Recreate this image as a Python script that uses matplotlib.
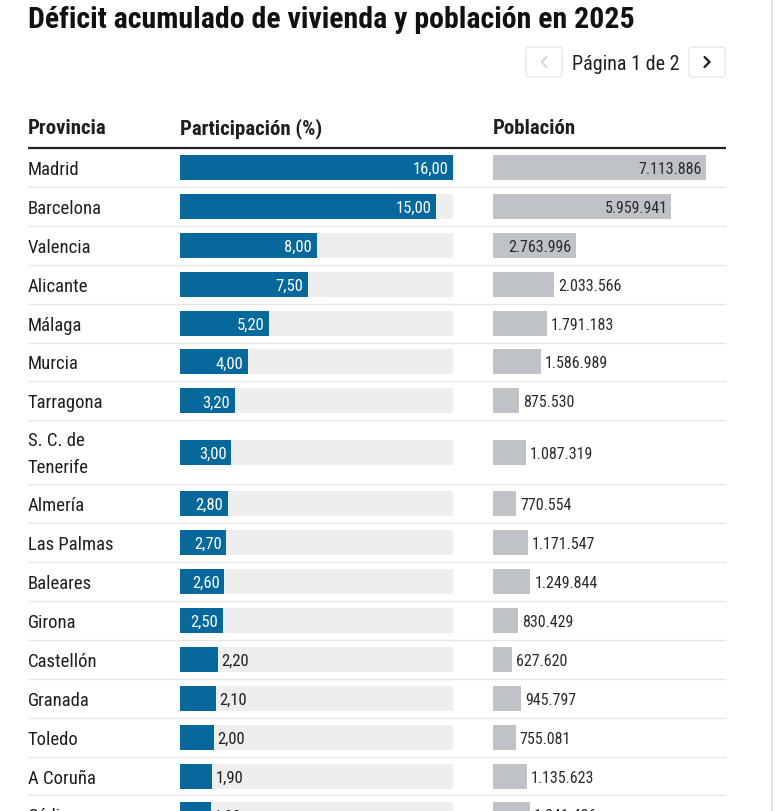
import matplotlib
matplotlib.use("Agg")
import matplotlib.pyplot as plt
from matplotlib import font_manager
from matplotlib.patches import FancyBboxPatch
from matplotlib.transforms import offset_copy

# ---------------------- Data ----------------------

provincias = ["Madrid", "Barcelona", "Valencia", "Alicante", "Málaga", "Murcia",
              "Tarragona", "S. C. de\nTenerife", "Almería", "Las Palmas", "Baleares",
              "Girona", "Castellón", "Granada", "Toledo", "A Coruña", "Cádiz"]
participacion = [16.00, 15.00, 8.00, 7.50, 5.20, 4.00, 3.20, 3.00, 2.80, 2.70,
                 2.60, 2.50, 2.20, 2.10, 2.00, 1.90, 1.80]
poblacion = [7113886, 5959941, 2763996, 2033566, 1791183, 1586989, 875530,
             1087319, 770554, 1171547, 1249844, 830429, 627620, 945797,
             755081, 1135623, 1241426]

titulo = "Déficit acumulado de vivienda y población en 2025"
cabeceras = ["Provincia", "Participación (%)", "Población"]
paginacion = "Página 1 de 2"

# ---------------------- Layout (pixels) ----------------------

W, H = 777, 812
LEFT, RIGHT = 28, 726
PART_X0, PART_W = 180, 273
POP_X0, POP_W = 493, 213
HEADER_LINE_Y = 149
ROW_H, TALL_ROW_H = 38.9, 64
BAR_H = 25

BLUE = "#07699b"
TRACK = "#eeeeee"
GREY_BAR = "#bfc3c7"
INK = "#1f1f1f"


def pick_font(cands):
    names = {f.name for f in font_manager.fontManager.ttflist}
    for c in cands:
        if c in names:
            return c
    return "DejaVu Sans"


FONT = pick_font(["Liberation Sans Narrow", "Roboto Condensed", "Roboto", "Liberation Sans"])
plt.rcParams["font.family"] = [FONT, "DejaVu Sans"]


def fmt_es(v, dec=2):
    s = f"{v:,.{dec}f}"
    return s.replace(",", "X").replace(".", ",").replace("X", ".")


# row centres and bottoms from row heights
centres, bottoms = [], []
top = HEADER_LINE_Y
for p in provincias:
    h = TALL_ROW_H if "\n" in p else ROW_H
    centres.append(top + h / 2)
    top += h
    bottoms.append(top)

fig = plt.figure(figsize=(W / 100, H / 100), dpi=100)
fig.patch.set_facecolor("white")

ax = fig.add_axes([0, 0, 1, 1])
ax.set_xlim(0, W)
ax.set_ylim(H, 0)
ax.axis("off")

# ---------------------- Title and pager ----------------------

ax.text(LEFT, 28.5, titulo, fontsize=21.5, fontweight="bold", color="#111111",
        ha="left", va="baseline")

for x0, active in [(526, False), (689, True)]:
    ax.add_patch(FancyBboxPatch((x0, 48), 36, 30, boxstyle="round,pad=0,rounding_size=3",
                                fc="white", ec="#e2e2e2", lw=0.8))
    cx, cy = x0 + 18, 63
    if active:
        ax.plot([cx - 2.5, cx + 2.5, cx - 2.5], [cy - 5, cy, cy + 5], color=INK,
                lw=1.6, solid_capstyle="round", solid_joinstyle="miter")
    else:
        ax.plot([cx + 2.5, cx - 2.5, cx + 2.5], [cy - 5, cy, cy + 5], color="#cfcfcf",
                lw=1.3, solid_capstyle="round")
ax.text(626, 69.5, paginacion, fontsize=14.5, color=INK, ha="center", va="baseline")

# ---------------------- Header ----------------------

for x, lab in zip([LEFT, PART_X0, POP_X0], cabeceras):
    ax.text(x, 134, lab, fontsize=15, fontweight="bold", color=INK,
            ha="left", va="baseline")
ax.plot([LEFT, RIGHT], [HEADER_LINE_Y, HEADER_LINE_Y], color="#222222", lw=1.6,
        solid_capstyle="butt")

# row separators and province names
for p, c, b in zip(provincias, centres, bottoms):
    ax.plot([LEFT, RIGHT], [b, b], color="#e6e6e6", lw=1.0, solid_capstyle="butt")
    lines = p.split("\n")
    n = len(lines)
    for i, ln in enumerate(lines):
        yy = c + (i - (n - 1) / 2) * 27 + 6.5
        ax.text(LEFT, yy, ln, fontsize=13.5, color=INK, ha="left", va="baseline")

# scrollbar edge
ax.plot([771.5, 771.5], [0, H], color="#dedede", lw=1.2)

# ---------------------- Participación bars ----------------------

ax_part = fig.add_axes([PART_X0 / W, 0, PART_W / W, 1])
max_part = max(participacion)
ax_part.set_xlim(0, max_part)
ax_part.set_ylim(H, 0)
ax_part.axis("off")
ax_part.barh(centres, [max_part] * len(centres), height=BAR_H, color=TRACK, lw=0)
ax_part.barh(centres, participacion, height=BAR_H, color=BLUE, lw=0)

inside_tr = offset_copy(ax_part.transData, fig=fig, x=-4.5, y=-5.5, units="dots")
outside_tr = offset_copy(ax_part.transData, fig=fig, x=3.5, y=-5.5, units="dots")
for v, c in zip(participacion, centres):
    px = v / max_part * PART_W
    if px >= 40:
        ax_part.text(v, c, fmt_es(v), transform=inside_tr, fontsize=12, color="white",
                     ha="right", va="baseline")
    else:
        ax_part.text(v, c, fmt_es(v), transform=outside_tr, fontsize=12, color=INK,
                     ha="left", va="baseline")

# ---------------------- Población bars ----------------------

ax_pop = fig.add_axes([POP_X0 / W, 0, POP_W / W, 1])
max_pop = max(poblacion)
ax_pop.set_xlim(0, max_pop)
ax_pop.set_ylim(H, 0)
ax_pop.axis("off")
ax_pop.barh(centres, poblacion, height=BAR_H, color=GREY_BAR, lw=0)

inside_tr = offset_copy(ax_pop.transData, fig=fig, x=-4, y=-5.5, units="dots")
outside_tr = offset_copy(ax_pop.transData, fig=fig, x=4, y=-5.5, units="dots")
for v, c in zip(poblacion, centres):
    px = v / max_pop * POP_W
    lab = fmt_es(v, 0)
    if px >= 80:
        ax_pop.text(v, c, lab, transform=inside_tr, fontsize=11.5, color="#2a2a2a",
                    ha="right", va="baseline")
    else:
        ax_pop.text(v, c, lab, transform=outside_tr, fontsize=11.5, color="#2a2a2a",
                    ha="left", va="baseline")

fig.savefig("out.png", dpi=100)
